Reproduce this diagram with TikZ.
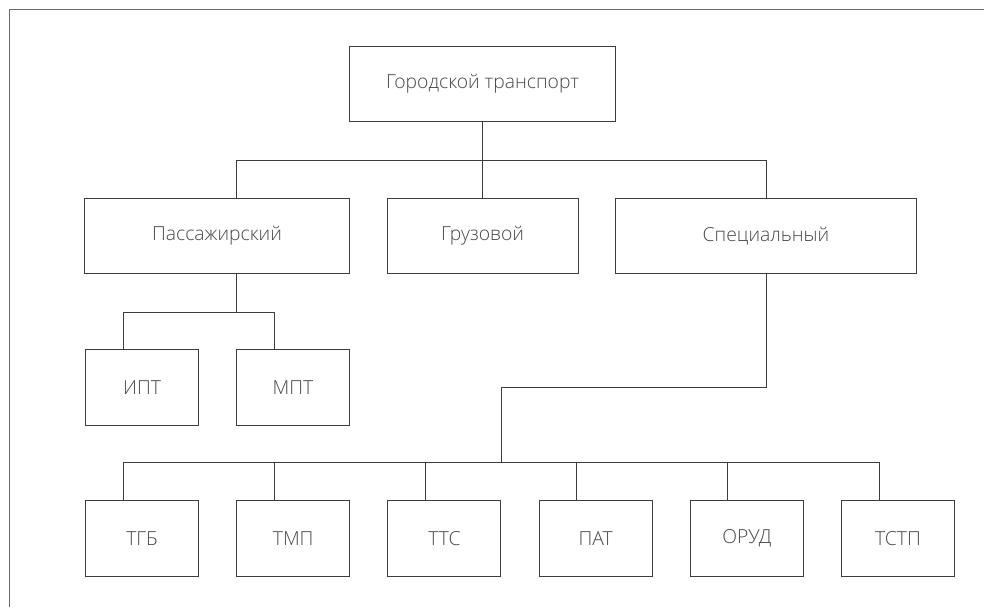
\documentclass[tikz,border=0pt]{standalone}
\usepackage{fontspec}
\setmainfont{Open Sans Light}
\usepackage{xcolor}
\usetikzlibrary{calc}
\definecolor{ink}{HTML}{3C3C3C}
\definecolor{label}{HTML}{474747}
\definecolor{frame}{HTML}{6A6A6A}
\tikzset{
  box/.style={draw=ink, line width=0.75pt, anchor=north west, inner sep=0pt,
    minimum height=57pt, text=label, font=\fontsize{14.5}{16}\selectfont},
  link/.style={draw=ink, line width=0.75pt}
}

\begin{document}
\begin{tikzpicture}[x=0.75pt, y=-0.75pt]
  \useasboundingbox (0,0) rectangle (984,607);
  \draw[frame, line width=0.75pt] (984,9) -- (9,9) -- (9,607);

  % top and second level
  \node[box, minimum width=199.5pt, minimum height=56.25pt] (root) at (349,46) {Городской транспорт};
  \node[box, minimum width=198.75pt, minimum height=56.25pt] (pass) at (84,198) {Пассажирский};
  \node[box, minimum width=143.25pt, minimum height=56.25pt] (cargo) at (386.5,198) {Грузовой};
  \node[box, minimum width=225.75pt, minimum height=56.25pt] (spec) at (615,198) {Специальный};

  % third and fourth level
  \foreach \n/\x/\y/\txt in {ipt/85/349/ИПТ, mpt/236/349/МПТ,
      tgb/85/500/ТГБ, tmp/236.2/500/ТМП, ttc/387.4/500/ТТС,
      pat/538.6/500/ПАТ, orud/689.8/500/ОРУД, tstp/841/500/ТСТП}
  {
    \node[box, minimum width=84.75pt] (\n) at (\x,\y) {\txt};
    \coordinate (\n-in) at ($(\n.north west)!1/3!(\n.north east)$);
  }

  \coordinate (topbar) at (0,160);
  \coordinate (passbar) at (0,312);
  \coordinate (midbar) at (0,387);
  \coordinate (lowbar) at (0,462);

  \draw[link] (root.south) -- (cargo.north);
  \draw[link] (mpt.north west |- pass.north) |- (topbar -| spec.north) -- (spec.north);

  \draw[link] (mpt.north west |- pass.south) -- (mpt.north west |- passbar);
  \draw[link] (ipt-in) |- (passbar -| mpt-in) -- (mpt-in);

  \draw[link] (spec.south) |- (midbar -| ttc.north east) -- (lowbar -| ttc.north east);
  \draw[link] (tgb-in) |- (lowbar -| tstp-in) -- (tstp-in);
  \foreach \n in {tmp, ttc, pat, orud}
    \draw[link] (\n-in) -- (lowbar -| \n-in);
\end{tikzpicture}
\end{document}
